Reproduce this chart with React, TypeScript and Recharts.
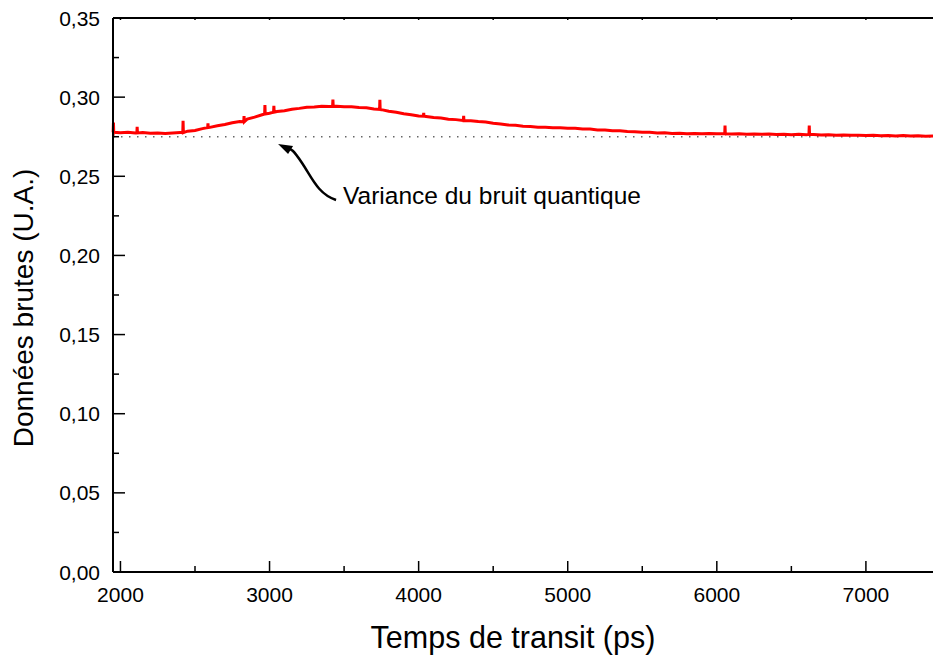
import React from 'react';
import { LineChart, Line, XAxis, YAxis, ReferenceLine, ReferenceDot } from 'recharts';

const FONT = '"Liberation Sans", Arial, Helvetica, sans-serif';

const sampleTimes = [
  1950, 2000, 2050, 2100, 2150, 2200, 2250, 2300, 2350, 2400, 2450, 2500, 2550, 2600, 2650, 2700, 2750, 2800,
  2850, 2900, 2950, 3000, 3050, 3100, 3150, 3200, 3250, 3300, 3350, 3400, 3450, 3500, 3550, 3600, 3650, 3700,
  3750, 3800, 3850, 3900, 3950, 4000, 4050, 4100, 4150, 4200, 4250, 4300, 4350, 4400, 4450, 4500, 4550, 4600,
  4650, 4700, 4750, 4800, 4850, 4900, 4950, 5000, 5050, 5100, 5150, 5200, 5250, 5300, 5350, 5400, 5450, 5500,
  5550, 5600, 5650, 5700, 5750, 5800, 5850, 5900, 5950, 6000, 6050, 6100, 6150, 6200, 6250, 6300, 6350, 6400,
  6450, 6500, 6550, 6600, 6650, 6700, 6750, 6800, 6850, 6900, 6950, 7000, 7050, 7100, 7150, 7200, 7250, 7300,
  7350, 7400, 7450,
];
const sampleValues = [
  0.2779, 0.2775, 0.2778, 0.2773, 0.2777, 0.2772, 0.2774, 0.2771, 0.2774, 0.2776, 0.2785, 0.2789, 0.2801, 0.2809,
  0.2819, 0.2827, 0.2838, 0.2846, 0.2861, 0.2874, 0.2889, 0.2898, 0.2909, 0.2914, 0.2924, 0.2929, 0.2936, 0.2938,
  0.2942, 0.2941, 0.2943, 0.2939, 0.2939, 0.2934, 0.2933, 0.2925, 0.2921, 0.2911, 0.2904, 0.2895, 0.2889, 0.2881,
  0.2878, 0.2871, 0.2868, 0.2861, 0.2858, 0.2852, 0.2851, 0.2846, 0.2843, 0.2835, 0.2831, 0.2824, 0.2822, 0.2816,
  0.2815, 0.281, 0.281, 0.2806, 0.2807, 0.2804, 0.2804, 0.2799, 0.2798, 0.2793, 0.2792, 0.2788, 0.2787, 0.2783,
  0.2782, 0.2778, 0.2778, 0.2774, 0.2775, 0.2771, 0.2772, 0.2769, 0.2771, 0.2768, 0.277, 0.2768, 0.2769, 0.2767,
  0.2768, 0.2766, 0.2767, 0.2765, 0.2767, 0.2764, 0.2766, 0.2763, 0.2765, 0.2762, 0.2764, 0.2761, 0.2763, 0.276,
  0.2761, 0.2759, 0.276, 0.2757, 0.2759, 0.2756, 0.2758, 0.2755, 0.2757, 0.2754, 0.2756, 0.2753, 0.2754,
];

// narrow glitches in the acquisition: time, peak, level around it
const spikeTimes = [1953, 2112, 2420, 2587, 2829, 2969, 3029, 3425, 3740, 4034, 4302, 6055, 6620];
const spikePeaks = [0.284, 0.2813, 0.285, 0.2835, 0.288, 0.295, 0.2945, 0.2984, 0.2984, 0.29, 0.2882, 0.282, 0.282];
const spikeBases = [0.2778, 0.2774, 0.2776, 0.2808, 0.2845, 0.2893, 0.2905, 0.2942, 0.2922, 0.288, 0.2851, 0.2768, 0.2764];

const shotNoiseLevel = 0.275;

const xTicks = [2000, 2500, 3000, 3500, 4000, 4500, 5000, 5500, 6000, 6500, 7000];
const xMajor = [2000, 3000, 4000, 5000, 6000, 7000];
const yTicks = [0, 0.025, 0.05, 0.075, 0.1, 0.125, 0.15, 0.175, 0.2, 0.225, 0.25, 0.275, 0.3, 0.325, 0.35];

const series: { t: number; v: number }[] = [];
sampleTimes.forEach((t, i) => series.push({ t, v: sampleValues[i] }));
spikeTimes.forEach((t, i) => {
  series.push({ t: t - 2, v: spikeBases[i] });
  series.push({ t, v: spikePeaks[i] });
  series.push({ t: t + 2, v: spikeBases[i] });
});
series.sort((a, b) => a.t - b.t);

const fmt = (v: number) => v.toFixed(2).replace('.', ',');

const BottomTick = (props: any) => {
  const { x, y, payload } = props;
  const major = xMajor.includes(payload.value);
  return (
    <g>
      <line x1={x} x2={x} y1={y} y2={y - (major ? 11 : 6)} stroke="#000" strokeWidth={1.5} />
      {major && (
        <text x={x} y={y + 30} textAnchor="middle" fontSize={21} fontFamily={FONT} fill="#000">
          {payload.value}
        </text>
      )}
    </g>
  );
};

const TopTick = (props: any) => {
  const { x, y } = props;
  return <line x1={x} x2={x} y1={y} y2={y + 2} stroke="#000" strokeWidth={1.5} />;
};

const LeftTick = (props: any) => {
  const { x, y, payload } = props;
  const major = Math.round(payload.value * 1000) % 50 === 0;
  return (
    <g>
      <line x1={x} x2={x + (major ? 12 : 6)} y1={y} y2={y} stroke="#000" strokeWidth={1.5} />
      {major && (
        <text x={x - 13} y={y + 7.5} textAnchor="end" fontSize={21} fontFamily={FONT} fill="#000">
          {fmt(payload.value)}
        </text>
      )}
    </g>
  );
};

const Arrow = (props: any) => {
  const { cx, cy } = props;
  return (
    <g>
      <path
        d={`M ${cx + 58} ${cy + 56} C ${cx + 40} ${cy + 50}, ${cx + 34} ${cy + 34}, ${cx + 24} ${cy + 19} S ${cx + 13} ${cy + 5}, ${cx + 8} ${cy + 4}`}
        fill="none"
        stroke="#000"
        strokeWidth={2.5}
      />
      <path d={`M ${cx} ${cy} L ${cx + 15} ${cy + 2} L ${cx + 10} ${cy + 10} Z`} fill="#000" />
    </g>
  );
};

const Note = (props: any) => {
  const { cx, cy } = props;
  return (
    <text x={cx} y={cy} fontSize={24.5} fontFamily={FONT} fill="#000">
      Variance du bruit quantique
    </text>
  );
};

export default function App() {
  return (
    <div style={{ position: 'absolute', left: 0, top: 0, width: 933, height: 655, background: '#fff' }}>
      <LineChart width={933} height={655} data={series} margin={{ top: 0, right: 0, left: 0, bottom: 0 }}>
        <XAxis
          xAxisId="bottom"
          dataKey="t"
          type="number"
          domain={[1950, 7450]}
          ticks={xTicks}
          interval={0}
          tick={BottomTick}
          tickLine={false}
          tickSize={0}
          tickMargin={0}
          height={83}
          axisLine={{ stroke: '#000', strokeWidth: 2 }}
          label={{
            content: (p: any) => (
              <text
                x={p.viewBox.x + p.viewBox.width / 2 - 10}
                y={p.viewBox.y + 76}
                textAnchor="middle"
                fontSize={30.5}
                fontFamily={FONT}
                fill="#000"
              >
                Temps de transit (ps)
              </text>
            ),
          }}
        />
        <XAxis
          xAxisId="top"
          orientation="top"
          dataKey="t"
          type="number"
          domain={[1950, 7450]}
          ticks={xTicks}
          interval={0}
          tick={TopTick}
          tickLine={false}
          tickSize={0}
          tickMargin={0}
          height={18}
          axisLine={{ stroke: '#000', strokeWidth: 2 }}
        />
        <YAxis
          yAxisId="left"
          type="number"
          domain={[0, 0.35]}
          ticks={yTicks}
          interval={0}
          width={113}
          tick={LeftTick}
          tickLine={false}
          tickSize={0}
          tickMargin={0}
          axisLine={{ stroke: '#000', strokeWidth: 2 }}
          label={{
            content: (p: any) => {
              const cx = 33;
              const cy = p.viewBox.y + p.viewBox.height / 2 + 13;
              return (
                <text
                  x={cx}
                  y={cy}
                  transform={`rotate(-90, ${cx}, ${cy})`}
                  textAnchor="middle"
                  fontSize={28}
                  fontFamily={FONT}
                  fill="#000"
                >
                  Données brutes (U.A.)
                </text>
              );
            },
          }}
        />
        <ReferenceLine
          xAxisId="bottom"
          yAxisId="left"
          y={shotNoiseLevel}
          stroke="#666"
          strokeWidth={1.5}
          strokeDasharray="1.5 6.5"
        />
        <Line
          xAxisId="bottom"
          yAxisId="left"
          type="linear"
          dataKey="v"
          stroke="#ff0000"
          strokeWidth={3}
          dot={false}
          isAnimationActive={false}
        />
        <ReferenceDot xAxisId="bottom" yAxisId="left" x={3057} y={0.2704} shape={Arrow} />
        <ReferenceDot xAxisId="bottom" yAxisId="left" x={3493} y={0.2325} shape={Note} />
      </LineChart>
    </div>
  );
}
